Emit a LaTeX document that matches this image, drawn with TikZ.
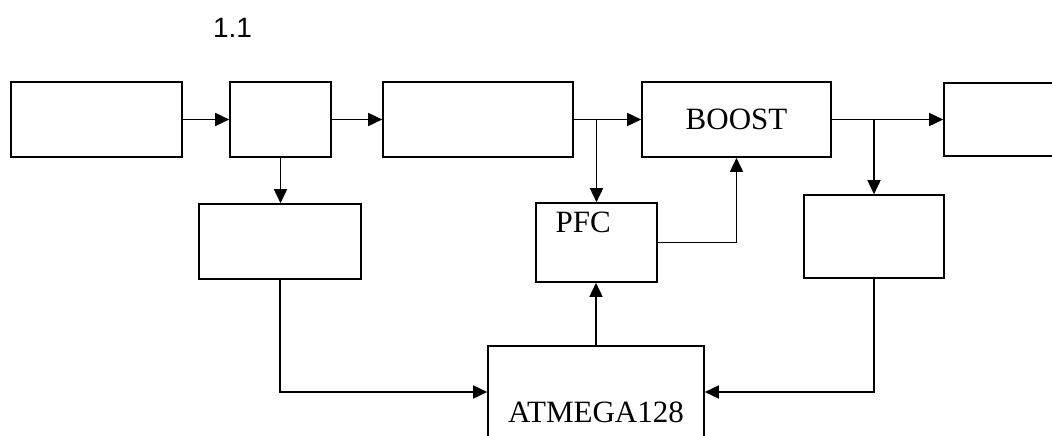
\documentclass[tikz,border=0pt]{standalone}
\usepackage{fontspec}
\setmainfont{Liberation Serif}
\newfontfamily\titlefont{Liberation Sans}
\usetikzlibrary{positioning,arrows.meta}

\begin{document}
\begin{tikzpicture}[
  x=1pt,y=-1pt,
  >={Triangle[length=14pt,width=13pt]},
  blk/.style={draw=black,line width=1.6pt,fill=white,inner sep=0pt,font=\fontsize{31}{36}\selectfont},
  ar/.style={->,line width=1.6pt,black}
]
\clip (0,0) rectangle (1052,436);

% TITLE
\node[font=\titlefont\fontsize{28}{32}\selectfont] (title) at (232.5,28) {1.1};

% TOP ROW: main power path
\node[blk,minimum width=171pt,minimum height=75pt] (src) at (96.5,119.5) {};
\node[blk,minimum width=101pt,minimum height=75pt] (rect) at (280.5,119.5) {};
\node[blk,minimum width=190pt,minimum height=75pt] (filt) at (478,119.5) {};
\node[blk,minimum width=189pt,minimum height=75pt] (boost) at (736.5,119.5) {BOOST};
\node[blk,minimum width=190pt,minimum height=73pt] (load) at (1039,119.5) {};
\draw[ar] (src) -- (rect);
\draw[ar] (rect) -- (filt);
\draw[ar] (filt) -- (boost);
\draw[ar] (boost) -- (load);

% MIDDLE ROW: sensing and PFC control
\node[blk,minimum width=162pt,minimum height=75pt] (insense) at (280,241.5) {};
\node[blk,minimum width=121pt,minimum height=79pt,
  label={[font=\fontsize{31}{36}\selectfont,anchor=base west,xshift=17pt,yshift=-30pt]north west:PFC}] (pfc) at (596.5,242.5) {};
\node[blk,minimum width=140pt,minimum height=83pt] (outsense) at (874,236.5) {};
\draw[ar] (rect.south) -- (rect.south |- insense.north);
\draw[ar] (filt.east -| pfc.north) -- (pfc.north);
\draw[ar] (pfc.east) -| (boost.south);
\draw[ar] (boost.east -| outsense.north) -- (outsense.north);

% BOTTOM: microcontroller
\node[blk,minimum width=216pt,minimum height=132pt] (mcu) at (596,412) {ATMEGA128};
\draw[ar] (mcu.north) -- (mcu.north |- pfc.south);
\draw[ar] (insense.south) |- ([yshift=20pt]mcu.west);
\draw[ar] (outsense.south) |- ([yshift=20pt]mcu.east);
\end{tikzpicture}
\end{document}
